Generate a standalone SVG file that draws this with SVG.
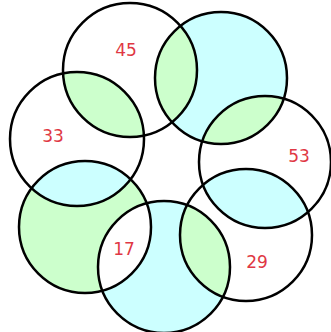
<svg xmlns="http://www.w3.org/2000/svg" width="331" height="332" viewBox="0 0 331 332">
<style>
.c{fill:none;stroke:#000;stroke-width:2.5}
.w{fill:#fff}
.b{fill:#ccffff}
.g{fill:#ccffcc}
.t{font-family:"DejaVu Sans",Verdana,sans-serif;font-size:17px;fill:#e03844;text-anchor:middle}
</style>
<defs>
<circle id="cA" cx="130" cy="70" r="67"/>
<circle id="cB" cx="221" cy="78" r="66"/>
<circle id="cC" cx="265" cy="162" r="66"/>
<circle id="cD" cx="246" cy="235" r="66"/>
<circle id="cE" cx="164" cy="267" r="66"/>
<circle id="cF" cx="85" cy="227" r="66"/>
<circle id="cG" cx="77" cy="139" r="67"/>
<clipPath id="kA"><use href="#cA"/></clipPath>
<clipPath id="kB"><use href="#cB"/></clipPath>
<clipPath id="kC"><use href="#cC"/></clipPath>
<clipPath id="kD"><use href="#cD"/></clipPath>
<clipPath id="kE"><use href="#cE"/></clipPath>
<clipPath id="kF"><use href="#cF"/></clipPath>
<clipPath id="kG"><use href="#cG"/></clipPath>
</defs>
<rect width="331" height="332" fill="#fff"/>
<g id="fills">
<use href="#cA" class="w"/>
<use href="#cB" class="b"/>
<use href="#cC" class="w"/>
<use href="#cD" class="w"/>
<use href="#cE" class="b"/>
<use href="#cF" class="g"/>
<use href="#cG" class="w"/>
<use href="#cB" class="g" clip-path="url(#kA)"/>
<use href="#cC" class="g" clip-path="url(#kB)"/>
<use href="#cD" class="b" clip-path="url(#kC)"/>
<use href="#cE" class="g" clip-path="url(#kD)"/>
<use href="#cF" class="w" clip-path="url(#kE)"/>
<use href="#cG" class="b" clip-path="url(#kF)"/>
<use href="#cA" class="g" clip-path="url(#kG)"/>
</g>
<g id="circle-45"><use href="#cA" class="c"/><text class="t" x="126" y="56">45</text></g>
<g id="circle-top-right"><use href="#cB" class="c"/></g>
<g id="circle-53"><use href="#cC" class="c"/><text class="t" x="299" y="162">53</text></g>
<g id="circle-29"><use href="#cD" class="c"/><text class="t" x="257" y="268">29</text></g>
<g id="circle-bottom"><use href="#cE" class="c"/></g>
<g id="circle-bottom-left"><use href="#cF" class="c"/><text class="t" x="124" y="255">17</text></g>
<g id="circle-33"><use href="#cG" class="c"/><text class="t" x="53" y="142">33</text></g>
</svg>
